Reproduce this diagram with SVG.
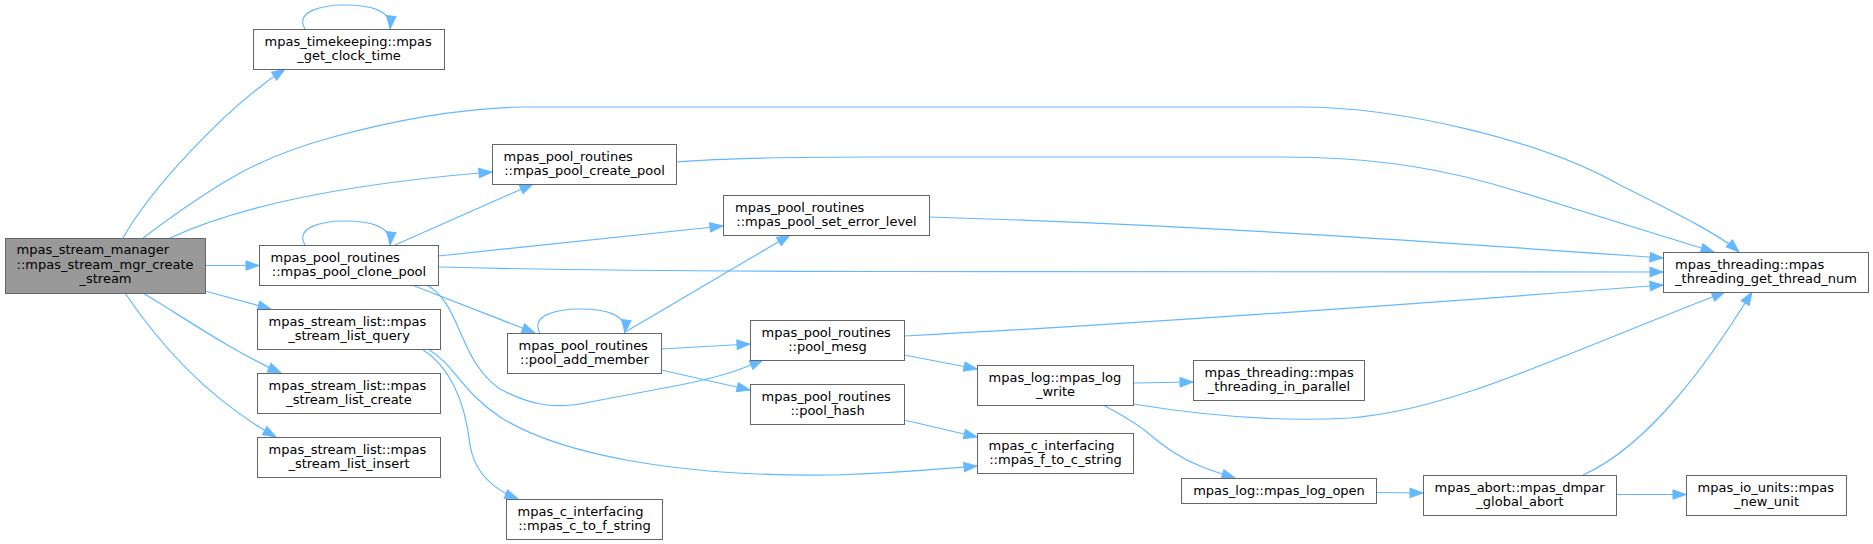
<svg xmlns="http://www.w3.org/2000/svg" width="1873" height="544" viewBox="0 0 1873 544">
<style>
.n rect{fill:#ffffff;stroke:#666666;stroke-width:1}
#n0 rect{fill:#999999}
text{font-family:"DejaVu Sans","Liberation Sans",sans-serif;font-size:13px;fill:#000000}
.c{text-anchor:middle}
#edges path{fill:none;stroke:#63b8ff;stroke-width:1.2;marker-end:url(#a)}
</style>
<defs>
<marker id="a" markerUnits="userSpaceOnUse" markerWidth="14" markerHeight="10" refX="13" refY="4.7" orient="auto" overflow="visible">
<path d="M0,0 L13,4.7 L0,9.4 Z" fill="#63b8ff" stroke="#63b8ff" stroke-width="1"/>
</marker>
</defs>
<rect width="1873" height="544" fill="#ffffff"/>
<g id="edges">
<path d="M123,238 C150,190 225,108 285,69"/>
<path d="M143,238 C175,214 200,196 233,177 S300,146 333,137 S440,109 520,107 L1300,107 C1400,107 1540,140 1620,185 C1680,215 1720,235 1739,252"/>
<path d="M170,238 C230,210 330,185 492,172"/>
<path d="M205,265.5 L259,265.5"/>
<path d="M205,291 L271,309"/>
<path d="M143,293 C180,315 230,350 281,373"/>
<path d="M125,293 C160,345 210,400 276,437"/>
<path d="M305,245 C295,228 320,221 345,221 C370,221 392,226 390,245"/>
<path d="M305,29 C295,12 320,5 345,5 C370,5 392,10 390,29"/>
<path d="M395,245 L533,184"/>
<path d="M438,256 L723,226"/>
<path d="M438,267 C560,270 700,271.5 900,271.5 L1663,272"/>
<path d="M412,285 L535,333"/>
<path d="M427,285 C462,305 458,360 500,389 C530,405 555,410 590,402 L680,385 C720,377 740,370 763,360"/>
<path d="M428,349 C455,365 460,390 500,417 C560,455 680,477 833,475 C900,473 940,469 977,466"/>
<path d="M422,349 C455,370 466,410 470,445 C474,470 490,488 518,499"/>
<path d="M540,333 C530,316 555,309 580,309 C605,309 627,314 625,333"/>
<path d="M627,331 L790,235"/>
<path d="M661,349 L750,344"/>
<path d="M661,370 L750,390"/>
<path d="M904,336 C1100,326 1400,305 1663,285"/>
<path d="M904,355 L977,369"/>
<path d="M904,420 L977,437"/>
<path d="M929,217 C1200,225 1450,243 1663,258"/>
<path d="M676,162 C720,158 800,157 880,157 L1280,157 C1380,157 1450,170 1520,192 L1714,252"/>
<path d="M1133,383 L1193,382"/>
<path d="M1133,404 C1200,415 1280,422 1350,418 C1450,410 1550,360 1725,292"/>
<path d="M1103,405 C1120,414 1135,422 1148,433 C1165,448 1180,458 1200,466 C1215,472 1225,475 1235,478"/>
<path d="M1376,492.5 L1423,493"/>
<path d="M1583,475 C1650,445 1710,360 1752,292"/>
<path d="M1616,494.5 L1686,494.5"/>
</g>
<g id="n0" class="n"><rect x="5.5" y="238.5" width="200" height="55"/><text x="16.5" y="254">mpas_stream_manager</text><text x="16.5" y="268.5">::mpas_stream_mgr_create</text><text class="c" x="105.5" y="283">_stream</text></g>
<g id="n1" class="n"><rect x="253.5" y="29.5" width="191" height="40"/><text x="264.5" y="45.5">mpas_timekeeping::mpas</text><text class="c" x="349" y="60">_get_clock_time</text></g>
<g id="n2" class="n"><rect x="1663.5" y="252.5" width="205" height="40"/><text x="1675" y="268.5">mpas_threading::mpas</text><text class="c" x="1766" y="283">_threading_get_thread_num</text></g>
<g id="n3" class="n"><rect x="492.5" y="144.5" width="184" height="40"/><text x="503.5" y="160.5">mpas_pool_routines</text><text class="c" x="584.5" y="175">::mpas_pool_create_pool</text></g>
<g id="n4" class="n"><rect x="259.5" y="245.5" width="179" height="40"/><text x="270.5" y="261.5">mpas_pool_routines</text><text class="c" x="349" y="276">::mpas_pool_clone_pool</text></g>
<g id="n5" class="n"><rect x="723.5" y="195.5" width="206" height="40"/><text x="735" y="211.5">mpas_pool_routines</text><text class="c" x="826.5" y="226">::mpas_pool_set_error_level</text></g>
<g id="n6" class="n"><rect x="507.5" y="333.5" width="154" height="40"/><text x="518.5" y="349.5">mpas_pool_routines</text><text class="c" x="584.5" y="364">::pool_add_member</text></g>
<g id="n7" class="n"><rect x="750.5" y="320.5" width="154" height="40"/><text x="761.5" y="336.5">mpas_pool_routines</text><text class="c" x="827.5" y="351">::pool_mesg</text></g>
<g id="n8" class="n"><rect x="977.5" y="365.5" width="156" height="40"/><text x="988.5" y="381.5">mpas_log::mpas_log</text><text class="c" x="1055.5" y="396">_write</text></g>
<g id="n9" class="n"><rect x="1193.5" y="360.5" width="171" height="40"/><text x="1204.5" y="376.5">mpas_threading::mpas</text><text class="c" x="1279" y="391">_threading_in_parallel</text></g>
<g id="n10" class="n"><rect x="1181.5" y="478.5" width="195" height="25"/><text class="c" x="1279" y="495">mpas_log::mpas_log_open</text></g>
<g id="n11" class="n"><rect x="1423.5" y="475.5" width="193" height="40"/><text x="1434.5" y="491.5">mpas_abort::mpas_dmpar</text><text class="c" x="1520" y="506">_global_abort</text></g>
<g id="n12" class="n"><rect x="1686.5" y="475.5" width="160" height="40"/><text x="1697.5" y="491.5">mpas_io_units::mpas</text><text class="c" x="1766.5" y="506">_new_unit</text></g>
<g id="n13" class="n"><rect x="750.5" y="384.5" width="154" height="40"/><text x="761.5" y="400.5">mpas_pool_routines</text><text class="c" x="827.5" y="415">::pool_hash</text></g>
<g id="n14" class="n"><rect x="977.5" y="433.5" width="156" height="40"/><text x="988.5" y="449.5">mpas_c_interfacing</text><text class="c" x="1055.5" y="464">::mpas_f_to_c_string</text></g>
<g id="n15" class="n"><rect x="257.5" y="309.5" width="183" height="40"/><text x="268.5" y="325.5">mpas_stream_list::mpas</text><text class="c" x="349" y="340">_stream_list_query</text></g>
<g id="n16" class="n"><rect x="506.5" y="499.5" width="156" height="40"/><text x="517.5" y="515.5">mpas_c_interfacing</text><text class="c" x="584.5" y="530">::mpas_c_to_f_string</text></g>
<g id="n17" class="n"><rect x="257.5" y="373.5" width="183" height="40"/><text x="268.5" y="389.5">mpas_stream_list::mpas</text><text class="c" x="349" y="404">_stream_list_create</text></g>
<g id="n18" class="n"><rect x="257.5" y="437.5" width="183" height="40"/><text x="268.5" y="453.5">mpas_stream_list::mpas</text><text class="c" x="349" y="468">_stream_list_insert</text></g>
</svg>
